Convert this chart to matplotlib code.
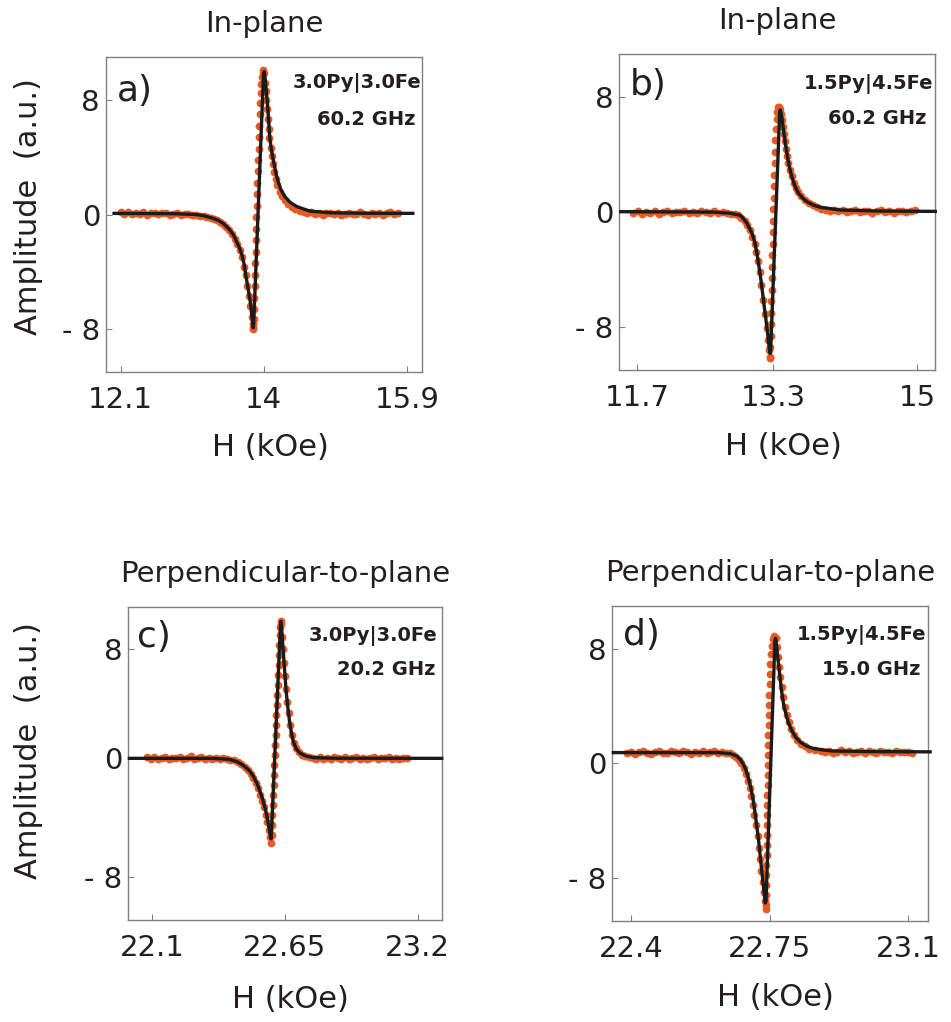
import matplotlib
matplotlib.use("Agg")
import matplotlib.pyplot as plt

# ---- panel a) in-plane, 3.0Py|3.0Fe, 60.2 GHz ----
a_field = [12.10, 12.15, 12.20, 12.25, 12.30, 12.35, 12.40, 12.45, 12.50, 12.55, 12.60, 12.65,
           12.70, 12.75, 12.80, 12.85, 12.90, 12.95, 13.00, 13.05, 13.10, 13.15, 13.20, 13.25,
           13.30, 13.34, 13.38, 13.42, 13.46, 13.50, 13.54, 13.58, 13.62, 13.65, 13.68, 13.71,
           13.74, 13.76, 13.78, 13.80, 13.82, 13.84, 13.85, 13.858,
           13.862, 13.866, 13.870, 13.874, 13.878, 13.882, 13.886, 13.890, 13.894, 13.898,
           13.902, 13.906, 13.910, 13.915, 13.920, 13.925, 13.930, 13.935, 13.941, 13.947,
           13.954, 13.961, 13.969, 13.977, 13.986, 13.995,
           14.005, 14.015, 14.025, 14.035, 14.045, 14.055, 14.065, 14.075, 14.09, 14.105,
           14.12, 14.14, 14.16, 14.18, 14.21, 14.24, 14.28, 14.32, 14.37, 14.42, 14.48,
           14.53, 14.58, 14.63, 14.68, 14.73, 14.78, 14.83, 14.88, 14.93, 14.98, 15.03, 15.08,
           15.13, 15.18, 15.23, 15.28, 15.33, 15.38, 15.43, 15.48, 15.53, 15.58, 15.63, 15.68,
           15.73, 15.78]
a_amp = [0.15, 0.05, 0.18, 0.02, 0.12, 0.06, 0.16, 0.00, 0.10, 0.14, 0.03, 0.08,
         0.13, -0.02, 0.06, 0.10, -0.04, 0.05, 0.02, -0.03, -0.06, -0.10, -0.13, -0.18,
         -0.24, -0.32, -0.40, -0.50, -0.64, -0.84, -1.06, -1.36, -1.72, -2.05, -2.45, -2.95,
         -3.65, -4.25, -4.95, -5.65, -6.35, -7.15, -7.6, -7.95,
         -7.85, -7.3, -6.6, -5.8, -5.0, -4.2, -3.4, -2.6, -1.8, -1.0,
         -0.2, 0.6, 1.4, 2.2, 3.0, 3.8, 4.6, 5.4, 6.2, 7.0,
         7.8, 8.5, 9.1, 9.6, 9.9, 10.05,
         9.85, 9.2, 8.6, 8.0, 7.35, 6.65, 5.95, 5.35, 4.65, 4.05,
         3.5, 2.95, 2.45, 2.05, 1.6, 1.3, 1.0, 0.75, 0.55, 0.38, 0.25,
         0.18, 0.10, 0.15, 0.05, 0.12, -0.02, 0.08, 0.14, 0.03, 0.09, -0.05, 0.06,
         0.12, 0.01, 0.07, 0.15, 0.02, -0.04, 0.10, 0.05, 0.13, -0.03, 0.08, 0.16,
         0.04, 0.10]
a_fit_field = [11.99, 12.80, 13.10, 13.20, 13.33, 13.40, 13.46, 13.55, 13.60, 13.64, 13.68,
               13.71, 13.74, 13.76, 13.79, 13.82, 13.84, 13.852, 13.860, 13.866, 13.995,
               14.005, 14.015, 14.05, 14.08, 14.10, 14.13, 14.16, 14.19, 14.23, 14.28,
               14.35, 14.44, 14.61, 14.88, 15.30, 16.00]
a_fit = [0.08, 0.06, 0.0, -0.08, -0.27, -0.42, -0.62, -1.08, -1.45, -1.90, -2.35,
         -2.83, -3.50, -4.22, -5.10, -6.08, -7.00, -7.60, -7.90, -7.60, 9.70,
         9.97, 9.60, 7.64, 5.32, 4.55, 3.69, 2.92, 2.29, 1.70, 1.24,
         0.85, 0.55, 0.24, 0.12, 0.09, 0.08]

# ---- panel b) in-plane, 1.5Py|4.5Fe, 60.2 GHz ----
b_field = [11.66, 11.71, 11.76, 11.81, 11.86, 11.91, 11.96, 12.01, 12.06, 12.11, 12.16, 12.21,
           12.26, 12.31, 12.36, 12.41, 12.46, 12.51, 12.56, 12.61, 12.66, 12.71, 12.76, 12.81,
           12.85, 12.89, 12.93, 12.97, 13.00, 13.03, 13.06, 13.085, 13.105, 13.125, 13.145,
           13.165, 13.185, 13.205, 13.225, 13.24, 13.252, 13.262,
           13.266, 13.270, 13.273, 13.276, 13.279, 13.282, 13.285, 13.288, 13.291, 13.294,
           13.297, 13.300, 13.303, 13.306, 13.309, 13.312, 13.316, 13.320, 13.325, 13.330,
           13.336, 13.343, 13.352, 13.364, 13.376,
           13.388, 13.398, 13.408, 13.418, 13.428, 13.44, 13.453, 13.467, 13.482, 13.50,
           13.52, 13.545, 13.57, 13.60, 13.635, 13.675, 13.72, 13.77, 13.82, 13.87,
           13.92, 13.97, 14.02, 14.07, 14.12, 14.17, 14.22, 14.27, 14.32, 14.37, 14.42,
           14.47, 14.52, 14.57, 14.62, 14.67, 14.72, 14.77, 14.82, 14.87, 14.92, 14.97]
b_amp = [-0.08, 0.05, -0.12, 0.02, -0.05, 0.08, -0.10, 0.00, 0.06, -0.07, 0.04, -0.02,
         0.09, -0.06, 0.03, -0.09, 0.05, 0.01, -0.04, 0.07, -0.03, 0.02, -0.06, -0.10,
         -0.12, -0.22, -0.38, -0.65, -0.92, -1.25, -1.72, -2.2, -2.75, -3.4, -4.2,
         -5.1, -6.1, -7.1, -8.1, -8.9, -9.6, -10.1,
         -10.2, -9.4, -8.6, -7.8, -7.0, -6.2, -5.4, -4.6, -3.8, -3.0,
         -2.2, -1.4, -0.6, 0.2, 1.0, 1.8, 2.6, 3.4, 4.2, 5.0,
         5.8, 6.5, 7.0, 7.3, 7.35,
         7.2, 6.85, 6.4, 5.95, 5.45, 4.95, 4.4, 3.9, 3.4, 2.95,
         2.5, 2.05, 1.7, 1.4, 1.1, 0.85, 0.65, 0.48, 0.35, 0.25,
         0.18, 0.10, 0.14, 0.05, 0.12, 0.02, 0.09, 0.15, 0.00, 0.07, 0.11,
         -0.03, 0.06, 0.13, 0.01, 0.08, -0.04, 0.05, 0.10, -0.02, 0.07, 0.12]
b_fit_field = [11.49, 12.60, 12.80, 12.916, 12.95, 12.995, 13.054, 13.085, 13.112, 13.135,
               13.159, 13.18, 13.198, 13.218, 13.237, 13.252, 13.262, 13.268, 13.274, 13.380,
               13.386, 13.394, 13.41, 13.424, 13.447, 13.471, 13.495, 13.523, 13.56, 13.60,
               13.65, 13.70, 13.78, 13.855, 14.09, 14.50, 15.23]
b_fit = [0.03, 0.0, -0.08, -0.22, -0.42, -0.78, -1.47, -2.05, -2.87, -3.75,
         -4.72, -5.70, -6.58, -7.50, -8.44, -9.20, -9.70, -9.85, -9.60, 7.00,
         7.12, 6.95, 6.40, 5.73, 4.75, 3.87, 3.10, 2.47, 1.80, 1.32,
         0.98, 0.73, 0.48, 0.34, 0.15, 0.08, 0.05]

# ---- panel c) perpendicular, 3.0Py|3.0Fe, 20.2 GHz ----
c_field = [22.080, 22.095, 22.110, 22.125, 22.140, 22.155, 22.170, 22.185, 22.200, 22.215,
           22.230, 22.245, 22.260, 22.275, 22.290, 22.305, 22.320, 22.335, 22.350, 22.365,
           22.380, 22.395, 22.410, 22.425,
           22.440, 22.455, 22.470, 22.485, 22.498, 22.510, 22.520, 22.530, 22.540, 22.549,
           22.557, 22.564, 22.571, 22.577, 22.583, 22.588, 22.593,
           22.5955, 22.5972, 22.5989, 22.6006, 22.6023, 22.6040, 22.6057, 22.6074, 22.6091,
           22.6108, 22.6125, 22.6142, 22.6159, 22.6176, 22.6193, 22.6210, 22.6227, 22.6244,
           22.6261, 22.6278, 22.6295, 22.6310, 22.6330,
           22.636, 22.640, 22.644, 22.648, 22.652, 22.656, 22.661, 22.666, 22.672, 22.679,
           22.687, 22.697, 22.708, 22.720, 22.735, 22.750,
           22.765, 22.780, 22.795, 22.810, 22.825, 22.840, 22.855, 22.870, 22.885, 22.900,
           22.915, 22.930, 22.945, 22.960, 22.975, 22.990, 23.005, 23.020, 23.035, 23.050,
           23.065, 23.080, 23.095, 23.110, 23.125, 23.140, 23.155]
c_amp = [0.42, 0.30, 0.45, 0.33, 0.38, 0.47, 0.28, 0.40, 0.35, 0.44,
         0.31, 0.39, 0.48, 0.30, 0.36, 0.42, 0.29, 0.37, 0.33, 0.40,
         0.30, 0.34, 0.27, 0.25,
         0.20, 0.06, -0.08, -0.25, -0.48, -0.72, -1.0, -1.35, -1.75, -2.2,
         -2.65, -3.1, -3.6, -4.1, -4.65, -5.15, -5.6,
         -5.0, -4.3, -3.6, -2.9, -2.2, -1.5, -0.8, -0.1, 0.6,
         1.3, 2.0, 2.7, 3.4, 4.1, 4.8, 5.5, 6.2, 6.9,
         7.6, 8.3, 9.0, 9.6, 10.0,
         9.75, 8.9, 8.0, 7.05, 6.1, 5.2, 4.3, 3.5, 2.7, 2.0,
         1.45, 1.05, 0.8, 0.62, 0.52, 0.45,
         0.40, 0.30, 0.46, 0.33, 0.38, 0.27, 0.42, 0.35, 0.31, 0.44,
         0.29, 0.37, 0.41, 0.32, 0.39, 0.28, 0.36, 0.43, 0.30, 0.38,
         0.34, 0.45, 0.31, 0.37, 0.29, 0.40, 0.35]
c_fit_field = [22.00, 22.35, 22.42, 22.452, 22.475, 22.493, 22.508, 22.521, 22.535, 22.548,
               22.559, 22.569, 22.577, 22.583, 22.589, 22.593, 22.5955, 22.632, 22.634,
               22.637, 22.645, 22.656, 22.663, 22.670, 22.678, 22.686, 22.698, 22.714,
               22.740, 22.769, 22.850, 23.307]
c_fit = [0.35, 0.35, 0.28, 0.12, -0.10, -0.35, -0.60, -0.94, -1.40, -1.99,
         -2.55, -3.16, -3.75, -4.34, -4.95, -5.30, -4.70, 9.60, 9.97,
         9.50, 7.62, 5.04, 3.90, 2.93, 2.10, 1.52, 1.00, 0.71,
         0.50, 0.40, 0.36, 0.35]

# ---- panel d) perpendicular, 1.5Py|4.5Fe, 15.0 GHz ----
d_field = [22.39, 22.40, 22.41, 22.42, 22.43, 22.44, 22.45, 22.46, 22.47, 22.48, 22.49, 22.50,
           22.51, 22.52, 22.53, 22.54, 22.55, 22.56, 22.57, 22.58, 22.59, 22.60, 22.61, 22.62,
           22.63, 22.64,
           22.650, 22.658, 22.665, 22.672, 22.678, 22.684, 22.689, 22.694, 22.699, 22.703,
           22.707, 22.711, 22.715, 22.719, 22.723, 22.726, 22.729, 22.732, 22.735, 22.738,
           22.7395,
           22.7395, 22.7400, 22.7405, 22.7410, 22.7415, 22.7420, 22.7424, 22.7428, 22.7431,
           22.7434, 22.7438, 22.7441, 22.7444, 22.7448, 22.7452, 22.7456, 22.7461, 22.7466,
           22.7472, 22.7478, 22.7484, 22.7490, 22.7496, 22.7503, 22.7512, 22.7525, 22.7545,
           22.7575, 22.7610,
           22.765, 22.768, 22.771, 22.774, 22.777, 22.780, 22.784, 22.788, 22.793, 22.798,
           22.804, 22.811, 22.819, 22.828, 22.838, 22.850, 22.864, 22.880,
           22.89, 22.90, 22.91, 22.92, 22.93, 22.94, 22.95, 22.96, 22.97, 22.98, 22.99, 23.00,
           23.01, 23.02, 23.03, 23.04, 23.05, 23.06, 23.07, 23.08, 23.09, 23.10, 23.11]
d_amp = [0.70, 0.82, 0.66, 0.78, 0.85, 0.72, 0.68, 0.80, 0.88, 0.74, 0.69, 0.83,
         0.77, 0.71, 0.86, 0.79, 0.67, 0.81, 0.75, 0.84, 0.70, 0.78, 0.88, 0.73,
         0.76, 0.72,
         0.70, 0.60, 0.45, 0.25, 0.0, -0.35, -0.75, -1.2, -1.7, -2.3,
         -2.9, -3.6, -4.3, -5.1, -5.9, -6.7, -7.5, -8.3, -9.0, -9.6,
         -10.15,
         -9.9, -9.2, -8.5, -7.8, -7.1, -6.4, -5.7, -5.0, -4.3,
         -3.6, -2.9, -2.2, -1.5, -0.8, -0.1, 0.6, 1.3, 2.0,
         2.7, 3.4, 4.1, 4.8, 5.5, 6.2, 6.9, 7.6, 8.2,
         8.7, 8.9,
         8.75, 8.1, 7.4, 6.7, 6.0, 5.3, 4.6, 3.95, 3.35, 2.85,
         2.4, 2.0, 1.65, 1.38, 1.18, 1.02, 0.92, 0.85,
         0.78, 0.86, 0.74, 0.82, 0.90, 0.76, 0.84, 0.72, 0.80, 0.88, 0.75, 0.83,
         0.79, 0.71, 0.85, 0.77, 0.81, 0.73, 0.87, 0.76, 0.82, 0.78, 0.74]
d_fit_field = [22.35, 22.62, 22.65, 22.666, 22.675, 22.682, 22.689, 22.695, 22.702, 22.708,
               22.712, 22.716, 22.721, 22.725, 22.729, 22.733, 22.736, 22.7385, 22.7405,
               22.763, 22.7644, 22.766, 22.771, 22.7796, 22.785, 22.7905, 22.797, 22.805,
               22.815, 22.826, 22.842, 22.860, 22.885, 22.910, 23.000, 23.16]
d_fit = [0.75, 0.75, 0.68, 0.51, 0.28, 0.0, -0.42, -0.93, -1.70, -2.55,
         -3.30, -4.17, -5.20, -6.26, -7.30, -8.34, -9.10, -9.74, -9.60,
         8.55, 8.72, 8.50, 7.19, 5.10, 4.10, 3.48, 2.85, 2.32,
         1.85, 1.51, 1.22, 1.04, 0.93, 0.86, 0.82, 0.80]

titles = ["In-plane", "In-plane", "Perpendicular-to-plane", "Perpendicular-to-plane"]
letters = ["a)", "b)", "c)", "d)"]
samples = ["3.0Py|3.0Fe", "1.5Py|4.5Fe", "3.0Py|3.0Fe", "1.5Py|4.5Fe"]
freqs = ["60.2 GHz", "60.2 GHz", "20.2 GHz", "15.0 GHz"]
xtick_vals = [[12.1, 14, 15.9], [11.7, 13.3, 15], [22.1, 22.65, 23.2], [22.4, 22.75, 23.1]]
xtick_text = [["12.1", "14", "15.9"], ["11.7", "13.3", "15"],
              ["22.1", "22.65", "23.2"], ["22.4", "22.75", "23.1"]]
xlims = [(11.90, 16.105), (11.49, 15.21), (22.0, 23.30), (22.35, 23.151)]

panels = [(a_field, a_amp, a_fit_field, a_fit),
          (b_field, b_amp, b_fit_field, b_fit),
          (c_field, c_amp, c_fit_field, c_fit),
          (d_field, d_amp, d_fit_field, d_fit)]

# axes boxes [left, bottom, width, height] in figure fraction
boxes = [[0.1111, 0.6357, 0.3330, 0.3088],
         [0.6509, 0.6380, 0.3326, 0.3089],
         [0.1343, 0.0998, 0.3302, 0.3066],
         [0.6432, 0.0988, 0.3329, 0.3086]]
zero_tick = [0.0, 0.0, 0.4, 0.0]
letter_y = [0.945, 0.958, 0.958, 0.962]
letter_x = [0.035, 0.035, 0.029, 0.037]
sample_pos = [(0.996, 0.900), (0.994, 0.889), (0.986, 0.891), (0.993, 0.891)]
freq_pos = [(0.977, 0.784), (0.973, 0.779), (0.979, 0.782), (0.976, 0.780)]
xlabel_pos = [(0.521, -0.192), (0.519, -0.195), (0.517, -0.207), (0.518, -0.198)]

orange = "#E65A25"
textc = "#231f20"

fig = plt.figure(figsize=(9.51, 10.22), dpi=100)

for i in range(4):
    ax = fig.add_axes(boxes[i])
    H, amp, fH, fit = panels[i]
    ax.plot(H, amp, "o", color=orange, ms=5.6, mec="none", zorder=2)
    ax.plot(fH, fit, color="#1b1b1b", lw=2.4, zorder=3, clip_on=(i == 0),
            solid_capstyle="butt")

    ax.set_xlim(*xlims[i])
    ax.set_ylim(-11, 11)
    ax.set_xticks(xtick_vals[i])
    ax.set_xticklabels(xtick_text[i])
    ax.set_yticks([-8, zero_tick[i], 8])
    ax.set_yticklabels(["- 8", "0", "8"])

    for sp in ax.spines.values():
        sp.set_color("#808080")
        sp.set_linewidth(1.0)
    ax.tick_params(direction="in", length=4, width=0.8, color="#808080",
                   labelsize=21, labelcolor=textc)
    ax.tick_params(axis="x", pad=10)
    ax.tick_params(axis="y", pad=4)

    ax.set_title(titles[i], fontsize=21, color=textc, pad=18)
    ax.set_xlabel("H (kOe)", fontsize=22, color=textc)
    ax.xaxis.set_label_coords(*xlabel_pos[i])
    if i in (0, 2):
        ax.set_ylabel("Amplitude  (a.u.)", fontsize=22, color=textc)
    if i == 0:
        ax.yaxis.set_label_coords(-0.197, 0.525)
    if i == 2:
        ax.yaxis.set_label_coords(-0.269, 0.54)

    ax.text(letter_x[i], letter_y[i], letters[i], transform=ax.transAxes,
            fontsize=26, color=textc, ha="left", va="top")
    ax.text(*sample_pos[i], samples[i], transform=ax.transAxes, fontsize=14,
            fontweight="bold", color=textc, ha="right", va="baseline")
    ax.text(*freq_pos[i], freqs[i], transform=ax.transAxes, fontsize=14,
            fontweight="bold", color=textc, ha="right", va="baseline")

fig.savefig("out.png", dpi=100)
